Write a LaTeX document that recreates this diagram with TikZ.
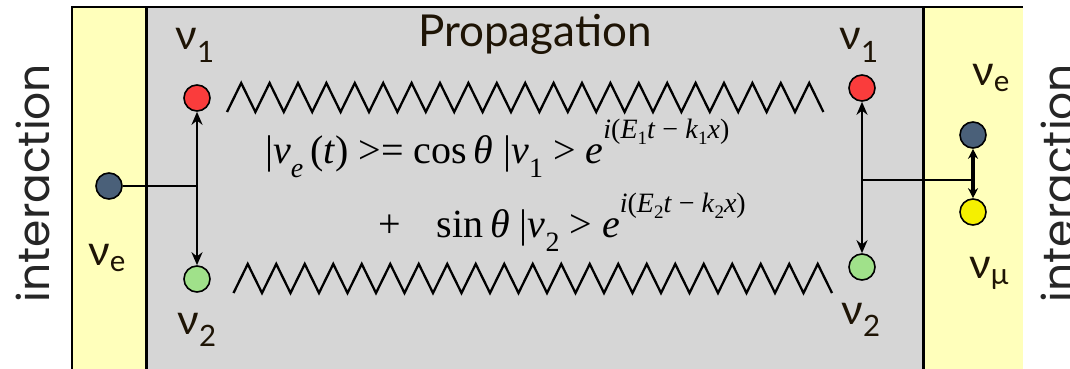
\documentclass[tikz,border=0pt]{standalone}
\usepackage{fontspec}
\setmainfont{Liberation Serif}
\newfontfamily\labfont{Lato}
\newfontfamily\intfont{Poppins}
\usetikzlibrary{arrows.meta}
\definecolor{panelY}{RGB}{255,255,187}
\definecolor{panelG}{RGB}{214,214,214}
\definecolor{nuE}{RGB}{74,96,121}
\definecolor{nuOne}{RGB}{250,60,60}
\definecolor{nuTwo}{RGB}{160,225,138}
\definecolor{nuMu}{RGB}{245,240,0}
\definecolor{labcol}{RGB}{30,20,5}
\newcommand{\mysup}[1]{\raisebox{0.62em}{\fontsize{28}{28}\selectfont #1}}
\newcommand{\mysub}[1]{\raisebox{-0.35em}{\fontsize{28}{28}\selectfont #1}}
\newcommand{\myssub}[1]{\raisebox{-0.22em}{\fontsize{19}{19}\selectfont #1}}
\begin{document}
\begin{tikzpicture}[x=1pt,y=-1pt,
  particle/.style={circle,draw=black,line width=1.6pt,minimum size=26pt,inner sep=0pt},
  lab/.style={font=\labfont\fontsize{42}{42}\selectfont, text=labcol, inner sep=0pt, anchor=base},
  eqn/.style={font=\fontsize{40}{42}\selectfont, inner sep=0pt, anchor=base west},
  dbl/.style={{Stealth[length=13pt,width=11pt]}-{Stealth[length=13pt,width=11pt]}, line width=2.5pt},
  wire/.style={line width=2.5pt},
  zig/.style={line width=2.3pt, line join=miter},
  inter/.style={font=\intfont\fontsize{44}{44}\selectfont, text=black!85, inner sep=0pt, rotate=90}
]
\useasboundingbox (0,0) rectangle (1070,369);
\fill[white] (0,0) rectangle (1070,369);
\fill[panelY] (72,7) rectangle (146,369);
\fill[panelG] (146,7) rectangle (923,369);
\fill[panelY] (923,7) rectangle (1023,369);
\draw[line width=1.5pt] (72,369) -- (72,7) -- (1023,7);
\draw[line width=3pt] (146,7) -- (146,369);
\draw[line width=3pt] (923,7) -- (923,369);

% side labels
\node[inter] (intL) at (33,183) {interaction};
\node[inter] (intR) at (1058,183) {interaction};
\node[font=\labfont\fontsize{44}{44}\selectfont, text=labcol, inner sep=0pt, anchor=base] (prop) at (535,47) {Propagation};

% particles
\node[particle, fill=nuE] (ve1) at (109,186) {};
\node[particle, fill=nuOne] (r1) at (197,98) {};
\node[particle, fill=nuTwo] (g1) at (197,279) {};
\node[particle, fill=nuOne] (r2) at (862,88) {};
\node[particle, fill=nuTwo] (g2) at (862,267) {};
\node[particle, fill=nuE] (ve2) at (973,135) {};
\node[particle, fill=nuMu] (mu2) at (973,212) {};

% labels
\node[lab] (l1a) at (195,50) {ν\textsubscript{1}};
\node[lab] (lea) at (107,265) {ν\textsubscript{e}};
\node[lab] (l2a) at (197,334) {ν\textsubscript{2}};
\node[lab] (l1b) at (859,50) {ν\textsubscript{1}};
\node[lab] (l2b) at (861,324) {ν\textsubscript{2}};
\node[lab] (leb) at (991,85) {ν\textsubscript{e}};
\node[lab] (lmb) at (989,278) {ν\textsubscript{μ}};

% zigzags
\draw[zig] (227,112) \foreach \i in {1,...,21} {-- ++(14.2,-29) -- ++(14.2,29)};
\draw[zig] (233.5,293) \foreach \i in {1,...,21} {-- ++(14.25,-29) -- ++(14.25,29)};

% equation
\node[eqn] (eq1) at (265,163) {|\textit{ν}\mysub{\textit{e}}\,(\textit{t}) >= cos\,\textit{θ} |\textit{ν}\mysub{1} > \textit{e}\mysup{\textit{i}(\textit{E}\myssub{1}\textit{t} − \textit{k}\myssub{1}\textit{x})}};
\node[eqn] (eq2) at (378,237) {+\hspace{0.9em}sin\,\textit{θ} |\textit{ν}\mysub{2} > \textit{e}\mysup{\textit{i}(\textit{E}\myssub{2}\textit{t} − \textit{k}\myssub{2}\textit{x})}};

% connectors
\draw[wire] (ve1) -- (ve1 -| r1);
\draw[dbl] (r1) -- (g1);
\draw[dbl] (r2) -- (g2);
\coordinate (jr) at (862,180);
\draw[wire] (jr) -- (jr -| ve2);
\draw[line width=3.2pt, {Stealth[length=10pt,width=10pt]}-{Stealth[length=10pt,width=10pt]}] (ve2) -- (mu2);
\end{tikzpicture}
\end{document}
